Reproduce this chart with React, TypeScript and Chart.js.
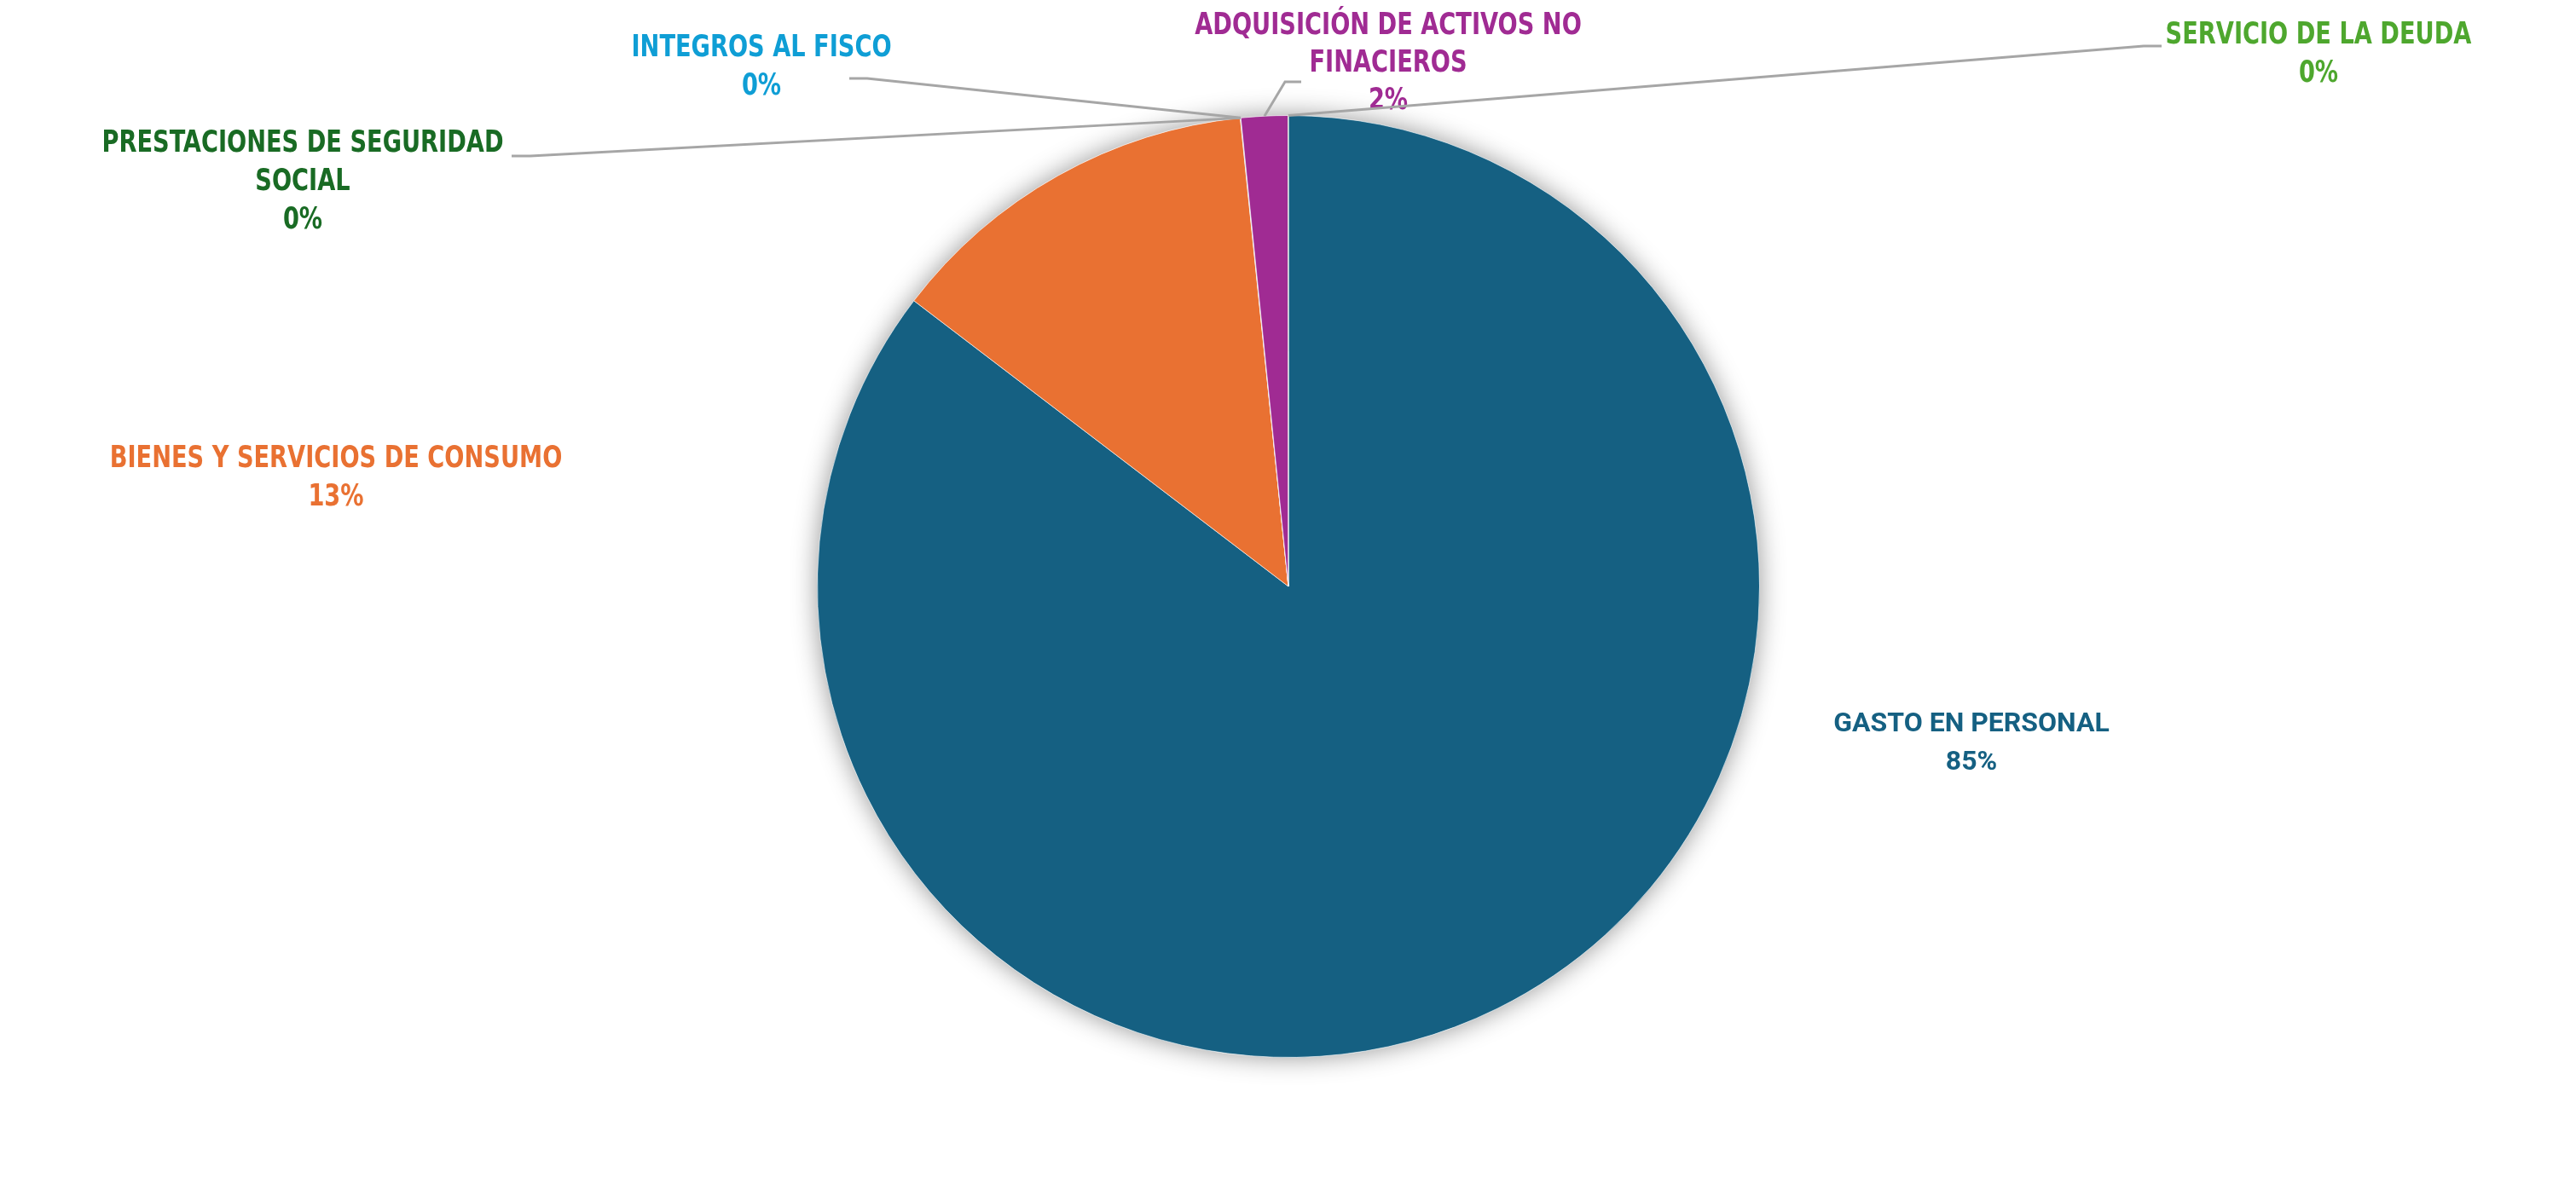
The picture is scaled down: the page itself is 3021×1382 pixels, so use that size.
import React, { useEffect, useRef } from "react";
import { Chart, registerables } from "chart.js";

Chart.register(...registerables);

const categories = [
  "GASTO EN PERSONAL",
  "BIENES Y SERVICIOS DE CONSUMO",
  "PRESTACIONES DE SEGURIDAD SOCIAL",
  "INTEGROS AL FISCO",
  "ADQUISICIÓN DE ACTIVOS NO FINACIEROS",
  "SERVICIO DE LA DEUDA",
];
const values = [85.4, 13.0, 0.01, 0.01, 1.6, 0.01];
const labelLines = [
  ["GASTO EN PERSONAL"],
  ["BIENES Y SERVICIOS DE CONSUMO"],
  ["PRESTACIONES DE SEGURIDAD", "SOCIAL"],
  ["INTEGROS AL FISCO"],
  ["ADQUISICIÓN DE ACTIVOS NO", "FINACIEROS"],
  ["SERVICIO DE LA DEUDA"],
];
const colors = ["#156082", "#E97132", "#196B24", "#0F9ED5", "#A02B93", "#4EA72E"];

const NARROW = "bold 35px 'DejaVu Sans Condensed', 'DejaVu Sans', sans-serif";
// label layout: center x, first line center y, line spacing, font, horizontal squeeze
const labelLayout = [
  { x: 2312, y: 850, gap: 45, font: "bold 32px Roboto", sx: 1 },
  { x: 394, y: 539, gap: 45, font: NARROW, sx: 0.865 },
  { x: 355, y: 169, gap: 45, font: NARROW, sx: 0.865 },
  { x: 893, y: 57, gap: 45, font: NARROW, sx: 0.865 },
  { x: 1628, y: 31, gap: 44, font: NARROW, sx: 0.865 },
  { x: 2719, y: 42, gap: 45, font: NARROW, sx: 0.865 },
];
// leader lines: [labelX, labelY, elbowX] or null
const leaders: (number[] | null)[] = [
  null,
  null,
  [600, 183, 622],
  [996, 92, 1017],
  [1526, 96, 1507],
  [2535, 54, 2514],
];

const pieShadow = {
  id: "pieShadow",
  beforeDatasetsDraw(chart: any) {
    const arc = chart.getDatasetMeta(0).data[0];
    if (!arc) return;
    const ctx = chart.ctx;
    ctx.save();
    ctx.shadowColor = "rgba(0,0,0,0.42)";
    ctx.shadowBlur = 30;
    ctx.fillStyle = "#ffffff";
    ctx.beginPath();
    ctx.arc(arc.x, arc.y, arc.outerRadius, 0, Math.PI * 2);
    ctx.fill();
    ctx.restore();
  },
};

const labelPlugin = {
  id: "labelPlugin",
  afterDraw(chart: any) {
    const ctx = chart.ctx;
    const meta = chart.getDatasetMeta(0);
    const total = values.reduce((a, b) => a + b, 0);
    meta.data.forEach((arc: any, i: number) => {
      const lead = leaders[i];
      if (lead) {
        const mid = (arc.startAngle + arc.endAngle) / 2;
        const px = arc.x + Math.cos(mid) * arc.outerRadius;
        const py = arc.y + Math.sin(mid) * arc.outerRadius;
        ctx.save();
        ctx.strokeStyle = "#A6A6A6";
        ctx.lineWidth = 3;
        ctx.beginPath();
        ctx.moveTo(lead[0], lead[1]);
        ctx.lineTo(lead[2], lead[1]);
        ctx.lineTo(px, py);
        ctx.stroke();
        ctx.restore();
      }
      const lay = labelLayout[i];
      const lines = [...labelLines[i], Math.round((values[i] / total) * 100) + "%"];
      ctx.save();
      ctx.fillStyle = colors[i];
      ctx.font = lay.font;
      ctx.textAlign = "center";
      ctx.textBaseline = "middle";
      ctx.translate(lay.x, lay.y);
      ctx.scale(lay.sx, 1);
      lines.forEach((t, k) => ctx.fillText(t, 0, k * lay.gap));
      ctx.restore();
    });
  },
};

export default function App() {
  const ref = useRef<HTMLCanvasElement | null>(null);
  useEffect(() => {
    if (!ref.current) return;
    const chart = new Chart(ref.current, {
      type: "pie",
      data: {
        labels: categories,
        datasets: [
          {
            data: values,
            backgroundColor: colors,
            borderColor: "rgba(255,255,255,0.6)",
            borderWidth: 1,
          },
        ],
      },
      options: {
        animation: false,
        responsive: false,
        maintainAspectRatio: false,
        layout: { padding: { top: 135, bottom: 141, left: 958, right: 957 } },
        plugins: { legend: { display: false }, tooltip: { enabled: false } },
      },
      plugins: [pieShadow, labelPlugin],
    });
    return () => chart.destroy();
  }, []);
  return (
    <div style={{ position: "fixed", left: 0, top: 0, width: 3021, height: 1382, background: "#fff" }}>
      <canvas ref={ref} width={3021} height={1382} style={{ width: 3021, height: 1382 }} />
    </div>
  );
}
